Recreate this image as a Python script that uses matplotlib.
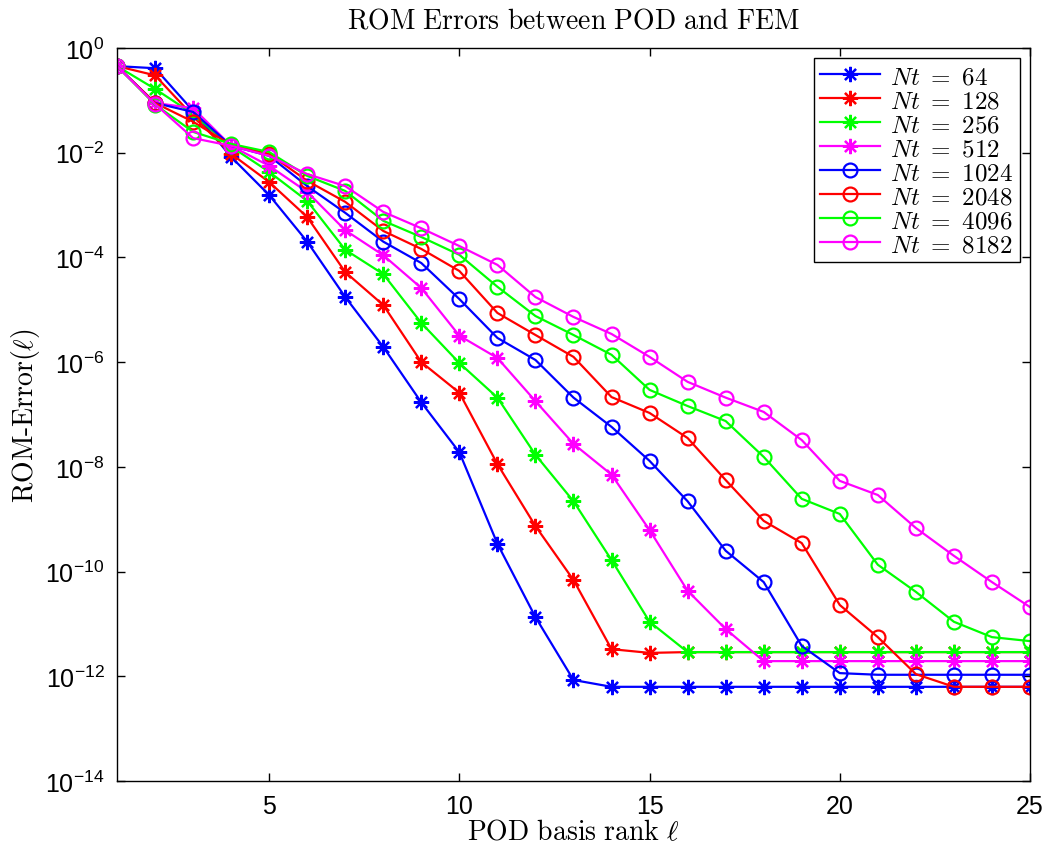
import numpy as np
import matplotlib
matplotlib.use('Agg')
import matplotlib.pyplot as plt
from matplotlib.ticker import FixedLocator, NullLocator

plt.rcParams['mathtext.fontset'] = 'cm'
# used only by the tick labels (they switch to the 'custom' math family)
plt.rcParams['mathtext.rm'] = 'Liberation Sans'
plt.rcParams['mathtext.it'] = 'Liberation Sans:italic'
plt.rcParams['mathtext.bf'] = 'Liberation Sans:bold'
plt.rcParams['mathtext.sf'] = 'Liberation Sans'

# POD basis rank
rank = np.arange(1, 26)

# ROM errors (one list per Nt)
err_64 = [4.5e-1, 4.1e-1, 6.3e-2, 8.3e-3, 1.55e-3, 2.0e-4, 1.75e-5, 1.95e-6, 1.7e-7, 1.9e-8,
          3.4e-10, 1.35e-11, 8.5e-13, 6.3e-13, 6.3e-13, 6.3e-13, 6.3e-13, 6.3e-13, 6.3e-13, 6.3e-13,
          6.3e-13, 6.3e-13, 6.3e-13, 6.3e-13, 6.3e-13]
err_128 = [4.5e-1, 3.0e-1, 5.0e-2, 9.5e-3, 2.75e-3, 5.9e-4, 5.25e-5, 1.23e-5, 1.0e-6, 2.6e-7,
           1.13e-8, 7.4e-10, 6.9e-11, 3.3e-12, 2.8e-12, 2.9e-12, 2.9e-12, 2.9e-12, 2.9e-12, 2.9e-12,
           2.9e-12, 2.9e-12, 2.9e-12, 2.9e-12, 2.9e-12]
err_256 = [4.5e-1, 1.65e-1, 5.5e-2, 1.3e-2, 4.3e-3, 1.2e-3, 1.4e-4, 4.8e-5, 5.6e-6, 9.6e-7,
           2.1e-7, 1.7e-8, 2.2e-9, 1.66e-10, 1.1e-11, 2.9e-12, 2.9e-12, 2.9e-12, 2.9e-12, 2.9e-12,
           2.9e-12, 2.9e-12, 2.9e-12, 2.9e-12, 2.9e-12]
err_512 = [4.5e-1, 8.9e-2, 7.1e-2, 1.35e-2, 5.6e-3, 1.78e-3, 3.3e-4, 1.1e-4, 2.6e-5, 3.2e-6,
           1.2e-6, 1.8e-7, 2.75e-8, 7.1e-9, 6.2e-10, 4.3e-11, 8.0e-12, 1.95e-12, 1.95e-12, 1.95e-12,
           1.95e-12, 1.95e-12, 1.95e-12, 1.95e-12, 1.95e-12]
err_1024 = [4.5e-1, 8.9e-2, 6.0e-2, 1.35e-2, 8.7e-3, 2.3e-3, 7.1e-4, 2.0e-4, 7.8e-5, 1.6e-5,
            2.9e-6, 1.1e-6, 2.1e-7, 5.8e-8, 1.3e-8, 2.2e-9, 2.5e-10, 6.3e-11, 3.8e-12, 1.15e-12,
            1.07e-12, 1.07e-12, 1.07e-12, 1.07e-12, 1.07e-12]
err_2048 = [4.5e-1, 8.9e-2, 3.9e-2, 1.4e-2, 9.5e-3, 2.9e-3, 1.15e-3, 3.2e-4, 1.45e-4, 5.5e-5,
            8.7e-6, 3.3e-6, 1.26e-6, 2.15e-7, 1.07e-7, 3.55e-8, 5.6e-9, 9.3e-10, 3.5e-10, 2.3e-11,
            5.6e-12, 1.1e-12, 6.3e-13, 6.3e-13, 6.3e-13]
err_4096 = [4.5e-1, 8.3e-2, 2.5e-2, 1.47e-2, 1.03e-2, 3.6e-3, 1.86e-3, 5.0e-4, 2.45e-4, 1.12e-4,
            2.75e-5, 7.6e-6, 3.3e-6, 1.38e-6, 2.95e-7, 1.45e-7, 7.5e-8, 1.55e-8, 2.45e-9, 1.26e-9,
            1.35e-10, 4.1e-11, 1.1e-11, 5.6e-12, 4.7e-12]
err_8182 = [4.5e-1, 8.5e-2, 1.9e-2, 1.35e-2, 8.7e-3, 3.9e-3, 2.3e-3, 7.4e-4, 3.6e-4, 1.65e-4,
            7.2e-5, 1.75e-5, 7.3e-6, 3.45e-6, 1.26e-6, 4.2e-7, 2.1e-7, 1.12e-7, 3.25e-8, 5.4e-9,
            2.9e-9, 6.8e-10, 2.0e-10, 6.3e-11, 2.1e-11]

nt_labels = ['64', '128', '256', '512', '1024', '2048', '4096', '8182']
series = [err_64, err_128, err_256, err_512, err_1024, err_2048, err_4096, err_8182]
colors = ['#0000ff', '#ff0000', '#00ff00', '#ff00ff'] * 2
markers = [(8, 2, 0)] * 4 + ['o'] * 4

fig = plt.figure(figsize=(10.55, 8.53), dpi=100)
ax = fig.add_axes([0.1109, 0.0832, 0.8654, 0.8594])

for ys, lab, c, m in zip(series, nt_labels, colors, markers):
    if m == 'o':
        ax.semilogy(rank, ys, color=c, lw=1.6, marker='o', ms=10, mfc='none', mec=c, mew=1.6,
                    label=r'$Nt\ =\ %s$' % lab)
    else:
        ax.semilogy(rank, ys, color=c, lw=1.6, marker=m, ms=11, mec=c, mew=1.6,
                    label=r'$Nt\ =\ %s$' % lab)

ax.set_xlim(1, 25)
ax.set_ylim(1e-14, 1)
ax.xaxis.set_major_locator(FixedLocator([5, 10, 15, 20, 25]))
ax.set_yticks([10.0 ** k for k in range(-14, 1, 2)],
              [r'$10^{%d}$' % k for k in range(-14, 1, 2)])
ax.yaxis.set_minor_locator(NullLocator())
ax.tick_params(direction='in', length=6, width=1, top=True, right=True, pad=9, labelsize=18)
for t in ax.get_xticklabels():
    t.set_fontfamily('Liberation Sans')
for t in ax.get_yticklabels():
    t.set_math_fontfamily('custom')
for s in ax.spines.values():
    s.set_linewidth(1.0)

ax.set_title(r'$\mathrm{ROM\ Errors\ between\ POD\ and\ FEM}$', fontsize=20, pad=15)
ax.set_xlabel(r'$\mathrm{POD\ basis\ rank}\ \ell$', fontsize=20, labelpad=0)
ax.set_ylabel(r'$\mathrm{ROM\text{-}Error}(\ell)$', fontsize=20, labelpad=2)

leg = ax.legend(loc='upper right', fontsize=18, frameon=True, fancybox=False,
                edgecolor='black', framealpha=1, borderaxespad=0.4, labelspacing=0.0,
                handlelength=2.4, handletextpad=0.4, borderpad=0.25)
leg.get_frame().set_linewidth(1.0)

fig.savefig('out.png', dpi=100)
